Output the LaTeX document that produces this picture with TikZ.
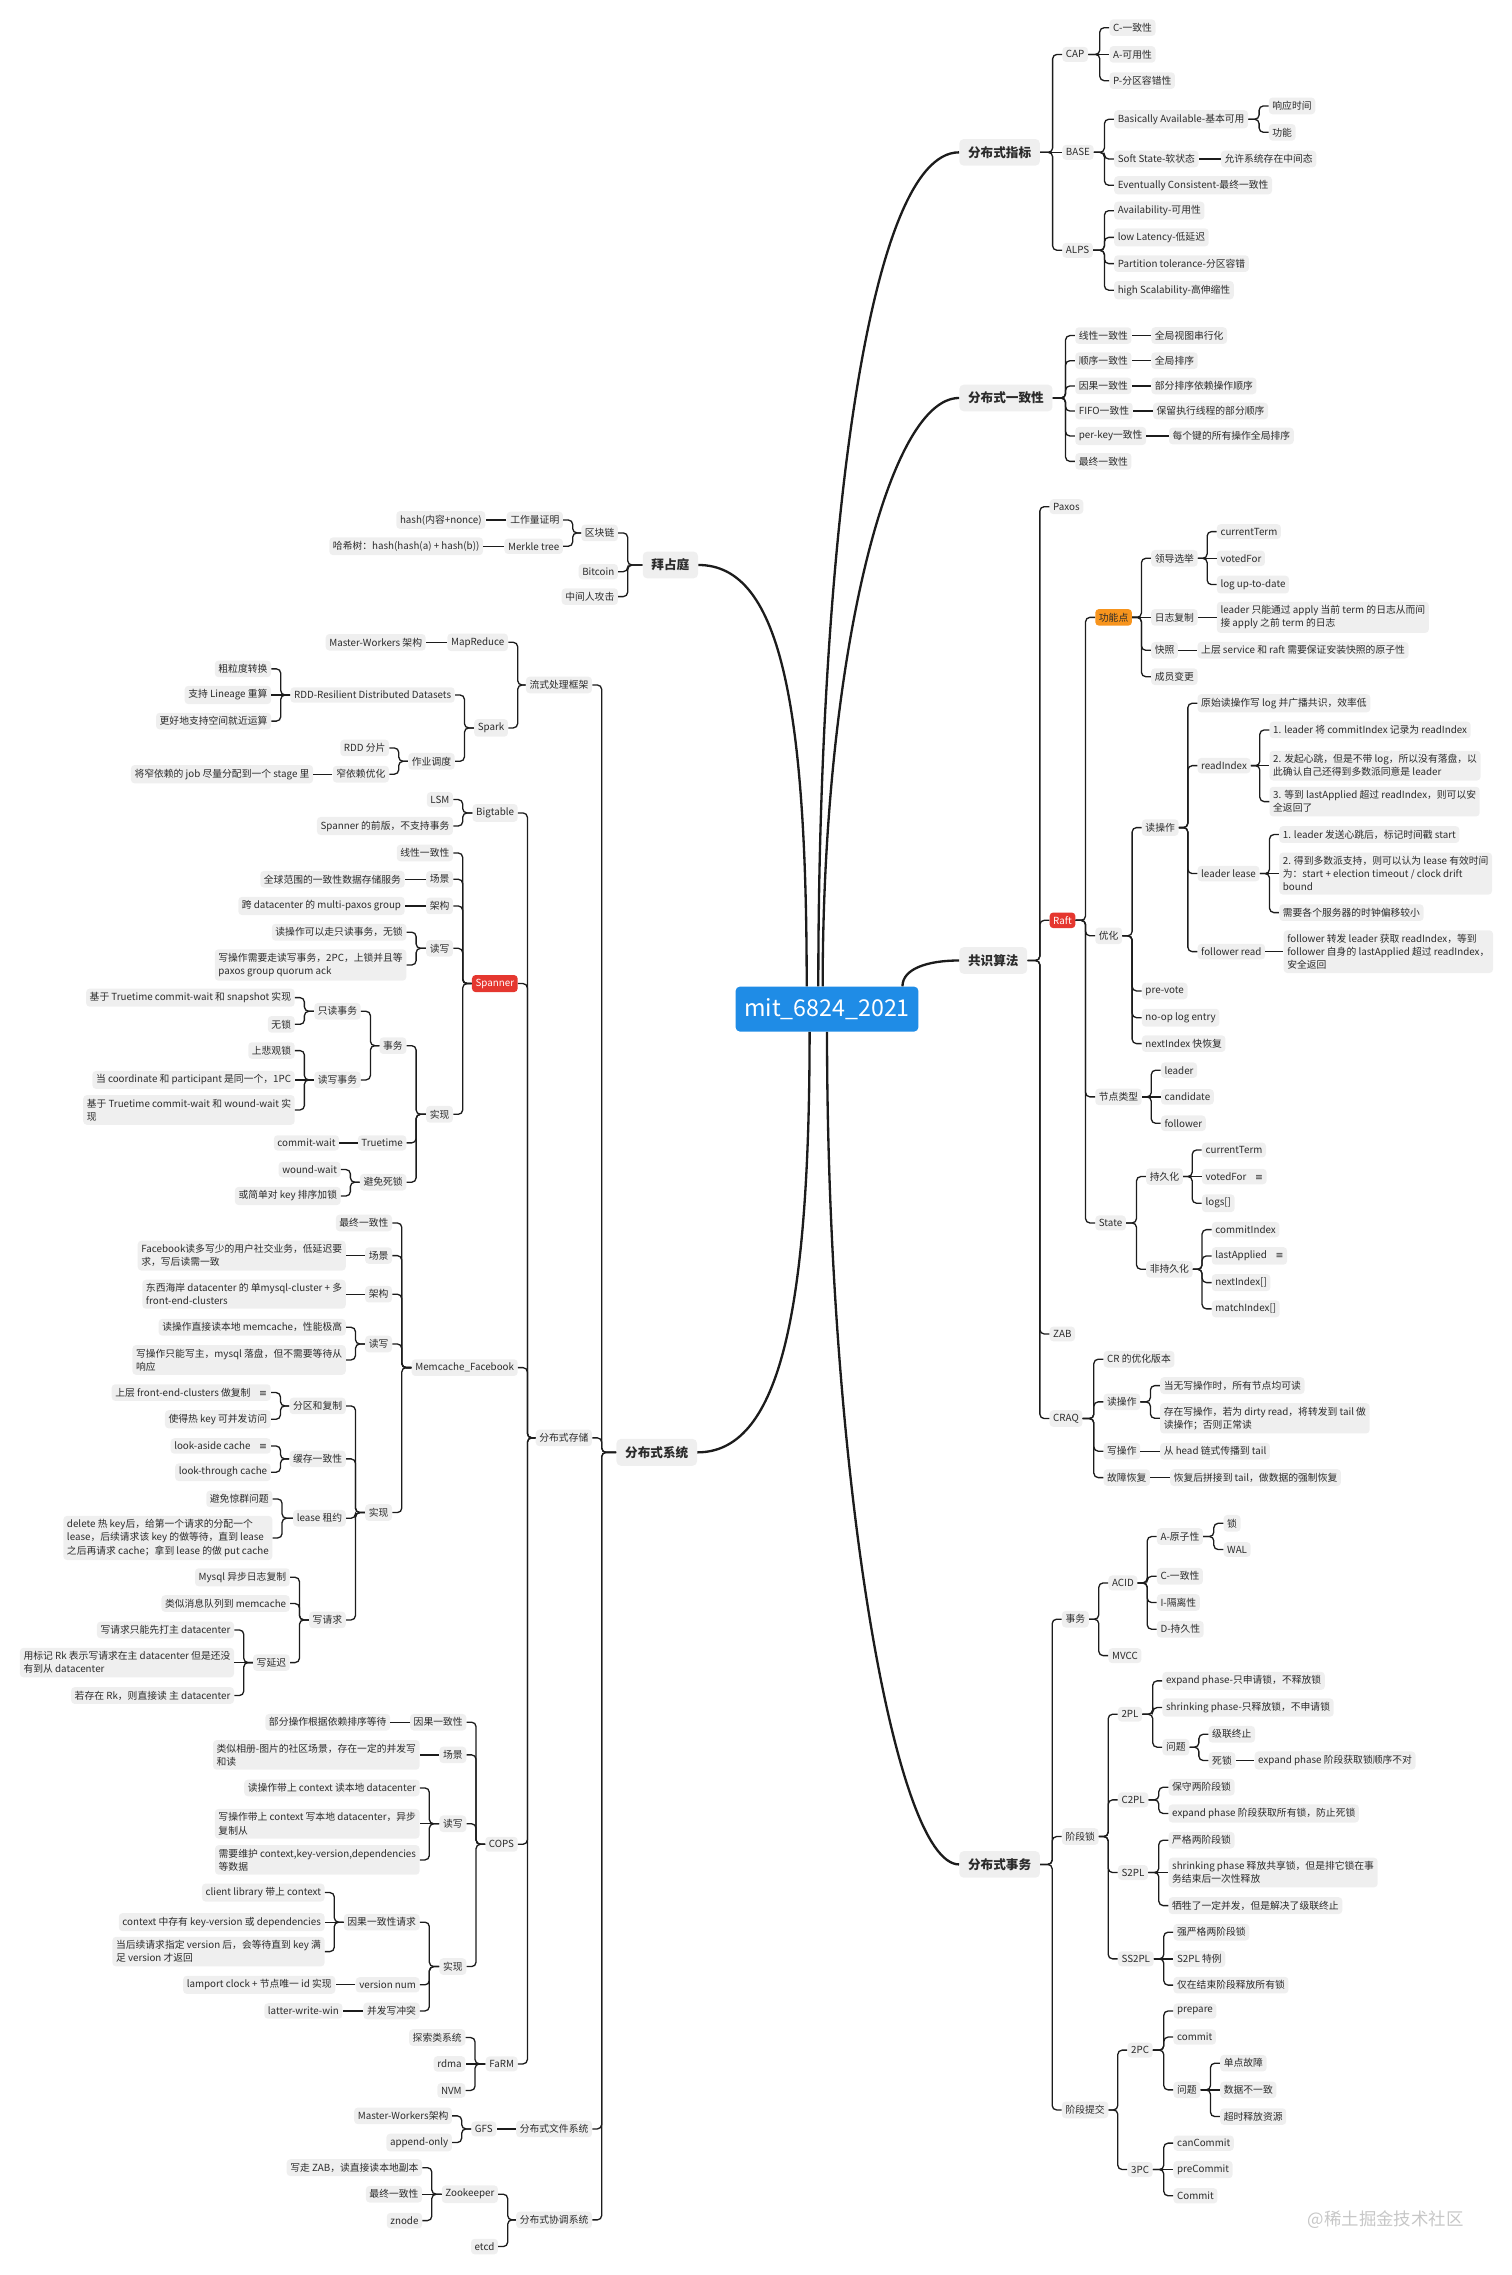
\documentclass[tikz,border=0pt]{standalone}
\usepackage{fontspec}
\setmainfont{Noto Sans CJK SC}
\newfontfamily\symfont{DejaVu Sans}
\definecolor{ink}{HTML}{2B2B2B}
\definecolor{boxgray}{HTML}{EFEFEF}
\definecolor{rootblue}{HTML}{1F8CE6}
\definecolor{hotred}{HTML}{E5372F}
\definecolor{warmorange}{HTML}{F7941D}
\definecolor{wire}{HTML}{1C1C1C}
\newcommand\topicfont{\fontsize{6.75}{9}\selectfont}
\newcommand\branchfont{\fontsize{8.7}{11}\selectfont\bfseries}
\newcommand\rootfont{\fontsize{16}{18}\selectfont}
\newcommand\noteicon{\hspace{6pt}{\symfont\fontsize{6.5}{9}\selectfont ≡}}
\tikzset{
  topic/.style={fill=boxgray, text=ink, rounded corners=2.5, inner xsep=2.5, inner ysep=2.6, align=left, font=\topicfont},
  rtopic/.style={topic, anchor=west},
  ltopic/.style={topic, anchor=east},
  branch/.style={fill=boxgray, text=ink, rounded corners=3, inner xsep=6, inner ysep=5, font=\branchfont},
  hot/.style={fill=hotred, text=white},
  warm/.style={fill=warmorange},
  rtree/.style={to path={-| ([xshift=-6.5]\tikztotarget) -- (\tikztotarget)}},
  ltree/.style={to path={-| ([xshift=6.5]\tikztotarget) -- (\tikztotarget)}},
  treeline/.style={draw=wire, line width=0.9, rounded corners=3},
  curve/.style={draw=wire, line width=1.6},
}
\begin{document}
\begin{tikzpicture}[x=1pt, y=-1pt]
\useasboundingbox (0,0) rectangle (1042,1568);

\node[branch, anchor=west] (zb) at (661,105) {分布式指标};
\node[rtopic] (cap) at (732,37.5) {CAP};
\node[rtopic] (base) at (732,105) {BASE};
\node[rtopic] (alps) at (732,172.5) {ALPS};
\node[rtopic] (c1) at (764.5,19.1) {C-一致性};
\node[rtopic] (a1) at (764.5,37.5) {A-可用性};
\node[rtopic] (p1) at (764.5,55.6) {P-分区容错性};
\node[rtopic] (ba) at (767.7,82.2) {Basically Available-基本可用};
\node[rtopic] (ss) at (767.7,109.6) {Soft State-软状态};
\node[rtopic] (ec) at (767.7,127.7) {Eventually Consistent-最终一致性};
\node[rtopic] (xy) at (874.3,73) {响应时间};
\node[rtopic] (gn) at (874.3,91.2) {功能};
\node[rtopic] (yx) at (841.3,109.6) {允许系统存在中间态};
\node[rtopic] (av) at (767.7,145.2) {Availability-可用性};
\node[rtopic] (ll) at (767.7,163.6) {low Latency-低延迟};
\node[rtopic] (pt) at (767.7,181.7) {Partition tolerance-分区容错};
\node[rtopic] (hs) at (767.7,200) {high Scalability-高伸缩性};

\node[branch, anchor=west] (yz) at (661,274.3) {分布式一致性};
\node[rtopic] (xx) at (740.9,231.3) {线性一致性};
\node[rtopic] (sx) at (740.9,248.6) {顺序一致性};
\node[rtopic] (yg) at (740.9,266) {因果一致性};
\node[rtopic] (ff) at (740.9,283.3) {FIFO一致性};
\node[rtopic] (pk) at (740.9,300.5) {per-key一致性};
\node[rtopic] (zz) at (740.9,318) {最终一致性};
\node[rtopic] (xx2) at (793.3,231.3) {全局视图串行化};
\node[rtopic] (sx2) at (793.3,248.6) {全局排序};
\node[rtopic] (yg2) at (793.3,266) {部分排序依赖操作顺序};
\node[rtopic] (ff2) at (794.5,283.3) {保留执行线程的部分顺序};
\node[rtopic] (pk2) at (805.5,300.5) {每个键的所有操作全局排序};

\node[branch, anchor=west] (gs) at (661,662) {共识算法};
\node[rtopic] (paxos) at (723.2,349.2) {Paxos};
\node[rtopic, hot] (raft) at (723.2,634.3) {Raft};
\node[rtopic] (zab) at (723.2,919.4) {ZAB};
\node[rtopic] (craq) at (723.2,977.7) {CRAQ};
\node[rtopic, warm] (gnd) at (754.7,425.5) {功能点};
\node[rtopic] (yh) at (754.7,645) {优化};
\node[rtopic] (jd) at (754.7,756) {节点类型};
\node[rtopic] (st) at (754.7,842.9) {State};
\node[rtopic] (ld) at (793.2,384.8) {领导选举};
\node[rtopic] (rz) at (793.2,425.5) {日志复制};
\node[rtopic] (kz) at (793.2,448.2) {快照};
\node[rtopic] (cy) at (793.2,466.4) {成员变更};
\node[rtopic] (ct1) at (838.5,366.4) {currentTerm};
\node[rtopic] (vf1) at (838.5,384.8) {votedFor};
\node[rtopic] (lu) at (838.5,402.9) {log up-to-date};
\node[rtopic] (rz2) at (838.5,425.5) {leader 只能通过 apply 当前 term 的日志从而间\\接 apply 之前 term 的日志};
\node[rtopic] (kz2) at (825.2,448.2) {上层 service 和 raft 需要保证安装快照的原子性};
\node[rtopic] (dcz) at (786.8,570.4) {读操作};
\node[rtopic] (pv) at (786.8,683) {pre-vote};
\node[rtopic] (noop) at (786.8,701.4) {no-op log entry};
\node[rtopic] (ni) at (786.8,719.3) {nextIndex 快恢复};
\node[rtopic] (ys) at (825.2,484.7) {原始读操作写 log 并广播共识，效率低};
\node[rtopic] (ri) at (825.2,527.7) {readIndex};
\node[rtopic] (lls) at (825.2,602.1) {leader lease};
\node[rtopic] (fr) at (825.2,655.9) {follower read};
\node[rtopic] (ri1) at (874.8,503.1) {1. leader 将 commitIndex 记录为 readIndex};
\node[rtopic] (ri2) at (874.8,527.7) {2. 发起心跳，但是不带 log，所以没有落盘，以\\此确认自己还得到多数派同意是 leader};
\node[rtopic] (ri3) at (874.8,552.5) {3. 等到 lastApplied 超过 readIndex，则可以安\\全返回了};
\node[rtopic] (ll1) at (881.5,575.2) {1. leader 发送心跳后，标记时间戳 start};
\node[rtopic] (ll2) at (881.5,602.1) {2. 得到多数派支持，则可以认为 lease 有效时间\\为：start + election timeout / clock drift\\bound};
\node[rtopic] (ll3) at (881.5,629) {需要各个服务器的时钟偏移较小};
\node[rtopic] (fr2) at (884.5,655.9) {follower 转发 leader 获取 readIndex，等到\\follower 自身的 lastApplied 超过 readIndex，\\安全返回};
\node[rtopic] (ld1) at (800,737.6) {leader};
\node[rtopic] (cd) at (800,756) {candidate};
\node[rtopic] (fl) at (800,774.2) {follower};
\node[rtopic] (cjh) at (789.8,810.9) {持久化};
\node[rtopic] (fcj) at (789.8,874.8) {非持久化};
\node[rtopic] (ct2) at (828.2,792.6) {currentTerm};
\node[rtopic] (vf2) at (828.2,810.9) {votedFor\noteicon};
\node[rtopic] (lg) at (828.2,829.3) {logs[]};
\node[rtopic] (ci) at (835,847.5) {commitIndex};
\node[rtopic] (la) at (835,865.6) {lastApplied\noteicon};
\node[rtopic] (nx) at (835,884) {nextIndex[]};
\node[rtopic] (mi) at (835,902.1) {matchIndex[]};
\node[rtopic] (cr) at (760.4,936.8) {CR 的优化版本};
\node[rtopic] (cdu) at (760.4,966.2) {读操作};
\node[rtopic] (cxe) at (760.4,1000.2) {写操作};
\node[rtopic] (gz) at (760.4,1018.4) {故障恢复};
\node[rtopic] (cdu1) at (799.4,955) {当无写操作时，所有节点均可读};
\node[rtopic] (cdu2) at (799.4,977.5) {存在写操作，若为 dirty read，将转发到 tail 做\\读操作；否则正常读};
\node[rtopic] (cxe1) at (799.4,1000.2) {从 head 链式传播到 tail};
\node[rtopic] (gz1) at (806.3,1018.4) {恢复后拼接到 tail，做数据的强制恢复};

\node[branch, anchor=west] (sw) at (661,1285) {分布式事务};
\node[rtopic] (sw1) at (731.7,1116) {事务};
\node[rtopic] (sw2) at (731.7,1265.8) {阶段锁};
\node[rtopic] (sw3) at (731.7,1454.2) {阶段提交};
\node[rtopic] (acid) at (763.8,1091) {ACID};
\node[rtopic] (mvcc) at (763.8,1141.1) {MVCC};
\node[rtopic] (ya) at (797.2,1059) {A-原子性};
\node[rtopic] (yc) at (797.2,1086.4) {C-一致性};
\node[rtopic] (yi) at (797.2,1104.5) {I-隔离性};
\node[rtopic] (yd) at (797.2,1122.9) {D-持久性};
\node[rtopic] (suo) at (843.1,1049.9) {锁};
\node[rtopic] (wal) at (843.1,1068) {WAL};
\node[rtopic] (tpl) at (770.3,1181.5) {2PL};
\node[rtopic] (c2pl) at (770.3,1240.5) {C2PL};
\node[rtopic] (s2pl) at (770.3,1290.6) {S2PL};
\node[rtopic] (ss2pl) at (770.3,1350.1) {SS2PL};
\node[rtopic] (ep) at (801,1158.5) {expand phase-只申请锁，不释放锁};
\node[rtopic] (sp) at (801,1176.9) {shrinking phase-只释放锁，不申请锁};
\node[rtopic] (wt) at (801,1204.2) {问题};
\node[rtopic] (jl) at (832.8,1195.3) {级联终止};
\node[rtopic] (sisuo) at (832.8,1213.4) {死锁};
\node[rtopic] (sisuo2) at (864.5,1213.4) {expand phase 阶段获取锁顺序不对};
\node[rtopic] (bs) at (805.2,1231.8) {保守两阶段锁};
\node[rtopic] (bs2) at (805.2,1249.9) {expand phase 阶段获取所有锁，防止死锁};
\node[rtopic] (s2a) at (805.2,1268.3) {严格两阶段锁};
\node[rtopic] (s2b) at (805.2,1290.6) {shrinking phase 释放共享锁，但是排它锁在事\\务结束后一次性释放};
\node[rtopic] (s2c) at (805.2,1313.4) {牺牲了一定并发，但是解决了级联终止};
\node[rtopic] (ss2a) at (808.6,1331.7) {强严格两阶段锁};
\node[rtopic] (ss2b) at (808.6,1350.1) {S2PL 特例};
\node[rtopic] (ss2c) at (808.6,1368.2) {仅在结束阶段释放所有锁};
\node[rtopic] (tpc) at (776.9,1413) {2PC};
\node[rtopic] (thpc) at (776.9,1495.3) {3PC};
\node[rtopic] (prep) at (808.6,1386) {prepare};
\node[rtopic] (comm) at (808.6,1404) {commit};
\node[rtopic] (tpcw) at (808.6,1440.4) {问题};
\node[rtopic] (dd) at (840.8,1422) {单点故障};
\node[rtopic] (sj) at (840.8,1440.4) {数据不一致};
\node[rtopic] (cs) at (840.8,1458.8) {超时释放资源};
\node[rtopic] (cc) at (808.6,1477.1) {canCommit};
\node[rtopic] (pc) at (808.6,1495.3) {preCommit};
\node[rtopic] (cm) at (808.6,1513.4) {Commit};

\node[branch, anchor=east] (bz) at (481.3,389.4) {拜占庭};
\node[ltopic] (qkl) at (426.1,367.3) {区块链};
\node[ltopic] (btc) at (426.1,394) {Bitcoin};
\node[ltopic] (zjr) at (426.1,411.2) {中间人攻击};
\node[ltopic] (gzl) at (388.2,358.4) {工作量证明};
\node[ltopic] (mk) at (388.2,376.5) {Merkle tree};
\node[ltopic] (hs1) at (334.7,358.4) {hash(内容+nonce)};
\node[ltopic] (hxs) at (333.1,376.5) {哈希树：hash(hash(a) + hash(b))};

\node[branch, anchor=east] (fx) at (480.6,1001) {分布式系统};
\node[ltopic] (lc) at (408.2,472.1) {流式处理框架};
\node[ltopic] (fc) at (408.2,991) {分布式存储};
\node[ltopic] (wj) at (408.2,1467.3) {分布式文件系统};
\node[ltopic] (xt) at (408.2,1530) {分布式协调系统};
\node[ltopic] (mr) at (350.3,442.7) {MapReduce};
\node[ltopic] (spark) at (350.3,501.7) {Spark};
\node[ltopic] (mw) at (293.6,442.7) {Master-Workers 架构};
\node[ltopic] (rdd) at (313.6,479) {RDD-Resilient Distributed Datasets};
\node[ltopic] (zy) at (313.6,524.7) {作业调度};
\node[ltopic] (cl) at (187,461) {粗粒度转换};
\node[ltopic] (lin) at (187,479) {支持 Lineage 重算};
\node[ltopic] (kj) at (187,497) {更好地支持空间就近运算};
\node[ltopic] (fp) at (268.3,515.5) {RDD 分片};
\node[ltopic] (zyh) at (268.3,533.6) {窄依赖优化};
\node[ltopic] (job) at (216,533.6) {将窄依赖的 job 尽量分配到一个 stage 里};

\node[ltopic] (bt) at (357,560.3) {Bigtable};
\node[ltopic, hot] (spn) at (357,677.9) {Spanner};
\node[ltopic] (mc) at (357,942.6) {Memcache\_Facebook};
\node[ltopic] (cops) at (357,1271.1) {COPS};
\node[ltopic] (farm) at (357,1422.5) {FaRM};
\node[ltopic] (lsm) at (312.4,551.1) {LSM};
\node[ltopic] (qb) at (312.4,569.3) {Spanner 的前版，不支持事务};

\node[ltopic] (sxx) at (312.4,587.9) {线性一致性};
\node[ltopic] (scj) at (312.4,606) {场景};
\node[ltopic] (sjg) at (312.4,624.4) {架构};
\node[ltopic] (sdx) at (312.4,653.6) {读写};
\node[ltopic] (ssx) at (312.4,768) {实现};
\node[ltopic] (scj2) at (279.1,606) {全球范围的一致性数据存储服务};
\node[ltopic] (sjg2) at (279.1,624.4) {跨 datacenter 的 multi-paxos group};
\node[ltopic] (sdx1) at (280.3,642.5) {读操作可以走只读事务，无锁};
\node[ltopic] (sdx2) at (280.3,665.1) {写操作需要走读写事务，2PC，上锁并且等\\paxos group quorum ack};
\node[ltopic] (ssw) at (280.3,720.7) {事务};
\node[ltopic] (tt) at (280.3,787.7) {Truetime};
\node[ltopic] (bm) at (280.3,814.8) {避免死锁};
\node[ltopic] (zd) at (248.8,697) {只读事务};
\node[ltopic] (dx) at (248.8,744.3) {读写事务};
\node[ltopic] (zd1) at (203.3,687.6) {基于 Truetime commit-wait 和 snapshot 实现};
\node[ltopic] (zd2) at (203.3,706) {无锁};
\node[ltopic] (dx1) at (203.3,724.1) {上悲观锁};
\node[ltopic] (dx2) at (203.3,744.3) {当 coordinate 和 participant 是同一个，1PC};
\node[ltopic] (dx3) at (203.3,765) {基于 Truetime commit-wait 和 wound-wait 实\\现};
\node[ltopic] (cw) at (233.9,787.7) {commit-wait};
\node[ltopic] (ww) at (235,806.1) {wound-wait};
\node[ltopic] (px) at (235,824.3) {或简单对 key 排序加锁};

\node[ltopic] (mzz) at (270.4,842.9) {最终一致性};
\node[ltopic] (mcj) at (270.4,865.4) {场景};
\node[ltopic] (mjg) at (270.4,892) {架构};
\node[ltopic] (mdx) at (270.4,926.3) {读写};
\node[ltopic] (msx) at (270.4,1042.5) {实现};
\node[ltopic] (mcj2) at (238.5,865.4) {Facebook读多写少的用户社交业务，低延迟要\\求，写后读需一致};
\node[ltopic] (mjg2) at (238.5,892) {东西海岸 datacenter 的 单mysql-cluster + 多\\front-end-clusters};
\node[ltopic] (mdx1) at (238.5,914.8) {读操作直接读本地 memcache，性能极高};
\node[ltopic] (mdx2) at (238.5,937.3) {写操作只能写主，mysql 落盘，但不需要等待从\\响应};
\node[ltopic] (fq) at (238.5,969) {分区和复制};
\node[ltopic] (hc) at (238.5,1005.5) {缓存一致性};
\node[ltopic] (lease) at (238.5,1046.4) {lease 租约};
\node[ltopic] (xq) at (238.5,1116.5) {写请求};
\node[ltopic] (fq1) at (186.8,959.8) {上层 front-end-clusters 做复制\noteicon};
\node[ltopic] (fq2) at (186.8,978.2) {使得热 key 可并发访问};
\node[ltopic] (hc1) at (186.8,996.6) {look-aside cache\noteicon};
\node[ltopic] (hc2) at (186.8,1014.7) {look-through cache};
\node[ltopic] (le1) at (187.9,1033.1) {避免惊群问题};
\node[ltopic] (le2) at (187.9,1060) {delete 热 key后，给第一个请求的分配一个\\lease，后续请求该 key 的做等待，直到 lease\\之后再请求 cache；拿到 lease 的做 put cache};
\node[ltopic] (xq1) at (199.9,1087.1) {Mysql 异步日志复制};
\node[ltopic] (xq2) at (199.9,1105.2) {类似消息队列到 memcache};
\node[ltopic] (xyc) at (199.9,1145.9) {写延迟};
\node[ltopic] (xy1) at (161.5,1123.4) {写请求只能先打主 datacenter};
\node[ltopic] (xy2) at (161.5,1145.9) {用标记 Rk 表示写请求在主 datacenter 但是还没\\有到从 datacenter};
\node[ltopic] (xy3) at (161.5,1168.6) {若存在 Rk，则直接读 主 datacenter};

\node[ltopic] (cyg) at (321.6,1187) {因果一致性};
\node[ltopic] (ccj) at (321.6,1209.5) {场景};
\node[ltopic] (cdx) at (321.6,1257) {读写};
\node[ltopic] (csx) at (321.6,1355.4) {实现};
\node[ltopic] (cyg2) at (269.1,1187) {部分操作根据依赖排序等待};
\node[ltopic] (ccj2) at (289.4,1209.5) {类似相册-图片的社区场景，存在一定的并发写\\和读};
\node[ltopic] (cdx1) at (289.4,1232.3) {读操作带上 context 读本地 datacenter};
\node[ltopic] (cdx2) at (289.4,1257) {写操作带上 context 写本地 datacenter，异步\\复制从};
\node[ltopic] (cdx3) at (289.4,1281.9) {需要维护 context,key-version,dependencies\\等数据};
\node[ltopic] (yq) at (289.4,1324.8) {因果一致性请求};
\node[ltopic] (vn) at (289.4,1368) {version num};
\node[ltopic] (bf) at (289.4,1386) {并发写冲突};
\node[ltopic] (yq1) at (223.9,1304.4) {client library 带上 context};
\node[ltopic] (yq2) at (223.9,1324.8) {context 中存有 key-version 或 dependencies};
\node[ltopic] (yq3) at (223.9,1345.1) {当后续请求指定 version 后，会等待直到 key 满\\足 version 才返回};
\node[ltopic] (vn1) at (231.3,1368) {lamport clock + 节点唯一 id 实现};
\node[ltopic] (bf1) at (236.2,1386) {latter-write-win};
\node[ltopic] (ts) at (320.9,1404.3) {探索类系统};
\node[ltopic] (rdma) at (320.9,1422.5) {rdma};
\node[ltopic] (nvm) at (320.9,1440.8) {NVM};
\node[ltopic] (gfs) at (342.3,1467.3) {GFS};
\node[ltopic] (gfs1) at (311.7,1458.3) {Master-Workers架构};
\node[ltopic] (gfs2) at (311.7,1476.7) {append-only};
\node[ltopic] (zk) at (343.4,1512.3) {Zookeeper};
\node[ltopic] (etcd) at (343.4,1548.4) {etcd};
\node[ltopic] (zk1) at (291.1,1494) {写走 ZAB，读直接读本地副本};
\node[ltopic] (zk2) at (291.1,1512.3) {最终一致性};
\node[ltopic] (zk3) at (291.1,1530.5) {znode};

\node[fill=rootblue, text=white, font=\rootfont, rounded corners=3, minimum width=126, minimum height=31, inner sep=0] (rt) at (570,695.5) {mit\_6824\_2021};

\node[text=black!22, font=\fontsize{12}{14}\selectfont] (wm) at (955,1530) {@稀土掘金技术社区};

\begin{scope}[treeline, rtree]
  \foreach \p/\c in {zb/cap, zb/alps, cap/c1, cap/p1, base/ba, base/ss, base/ec, ba/xy, ba/gn, alps/av, alps/ll, alps/pt, alps/hs,
    yz/xx, yz/sx, yz/yg, yz/ff, yz/pk, yz/zz,
    gs/paxos, gs/raft, gs/zab, gs/craq, raft/gnd, raft/yh, raft/jd, raft/st, gnd/ld, gnd/kz, gnd/cy, ld/ct1, ld/lu,
    yh/dcz, yh/pv, yh/noop, yh/ni, dcz/ys, dcz/ri, dcz/lls, dcz/fr, ri/ri1, ri/ri3, lls/ll1, lls/ll3,
    jd/ld1, jd/fl, st/cjh, st/fcj, cjh/ct2, cjh/lg, fcj/ci, fcj/la, fcj/nx, fcj/mi,
    craq/cr, craq/cdu, craq/cxe, craq/gz, cdu/cdu1, cdu/cdu2,
    sw/sw1, sw/sw2, sw/sw3, sw1/acid, sw1/mvcc, acid/ya, acid/yc, acid/yi, acid/yd, ya/suo, ya/wal,
    sw2/tpl, sw2/c2pl, sw2/s2pl, sw2/ss2pl, tpl/ep, tpl/sp, tpl/wt, wt/jl, wt/sisuo, c2pl/bs, c2pl/bs2,
    s2pl/s2a, s2pl/s2c, ss2pl/ss2a, ss2pl/ss2c,
    sw3/tpc, sw3/thpc, tpc/prep, tpc/comm, tpc/tpcw, tpcw/dd, tpcw/cs, thpc/cc, thpc/cm}
    \draw (\p.east) to (\c.west);
\end{scope}

\begin{scope}[treeline, ltree]
  \foreach \p/\c in {bz/qkl, bz/btc, bz/zjr, qkl/gzl, qkl/mk,
    fx/lc, fx/fc, fx/wj, fx/xt, lc/mr, lc/spark, spark/rdd, spark/zy, rdd/cl, rdd/kj, zy/fp, zy/zyh,
    fc/bt, fc/spn, fc/mc, fc/cops, fc/farm, bt/lsm, bt/qb,
    spn/sxx, spn/scj, spn/sjg, spn/sdx, spn/ssx, sdx/sdx1, sdx/sdx2, ssx/ssw, ssx/tt, ssx/bm,
    ssw/zd, ssw/dx, zd/zd1, zd/zd2, dx/dx1, dx/dx3, bm/ww, bm/px,
    mc/mzz, mc/mcj, mc/mjg, mc/mdx, mc/msx, mdx/mdx1, mdx/mdx2, msx/fq, msx/hc, msx/lease, msx/xq,
    fq/fq1, fq/fq2, hc/hc1, hc/hc2, lease/le1, lease/le2, xq/xq1, xq/xq2, xq/xyc, xyc/xy1, xyc/xy3,
    cops/cyg, cops/ccj, cops/cdx, cops/csx, cdx/cdx1, cdx/cdx3, csx/yq, csx/vn, csx/bf,
    yq/yq1, yq/yq3, farm/ts, farm/nvm, gfs/gfs1, gfs/gfs2, xt/zk, xt/etcd, zk/zk1, zk/zk3}
    \draw (\p.west) to (\c.east);
\end{scope}

\begin{scope}[treeline]
  \foreach \p/\c in {zb/base, cap/a1, ss/yx, xx/xx2, sx/sx2, yg/yg2, ff/ff2, pk/pk2, gnd/rz, ld/vf1, rz/rz2, kz/kz2,
    ri/ri2, lls/ll2, fr/fr2, jd/cd, cjh/vf2, cxe/cxe1, gz/gz1, sisuo/sisuo2, s2pl/s2b, ss2pl/ss2b, tpcw/sj, thpc/pc}
    \draw (\p.east) -- (\c.west);
  \foreach \p/\c in {gzl/hs1, mk/hxs, mr/mw, rdd/lin, zyh/job, scj/scj2, sjg/sjg2, dx/dx2, tt/cw, mcj/mcj2, mjg/mjg2,
    xyc/xy2, cyg/cyg2, ccj/ccj2, cdx/cdx2, yq/yq2, vn/vn1, bf/bf1, farm/rdma, wj/gfs, zk/zk2}
    \draw (\p.west) -- (\c.east);
\end{scope}

\draw[curve] ([xshift=-6]rt.north) .. controls +(0,-290) and +(-65,0) .. (zb.west);
\draw[curve] ([xshift=-3]rt.north) .. controls +(0,-220) and +(-50,0) .. (yz.west);
\draw[curve] ([xshift=52]rt.north) .. controls +(0,-12) and +(-22,0) .. (gs.west);
\draw[curve] (rt.south) .. controls +(0,300) and +(-45,0) .. (sw.west);
\draw[curve] ([xshift=-14]rt.north) .. controls +(0,-200) and +(55,0) .. (bz.east);
\draw[curve] ([xshift=-12]rt.south) .. controls +(0,200) and +(55,0) .. (fx.east);
\end{tikzpicture}
\end{document}
